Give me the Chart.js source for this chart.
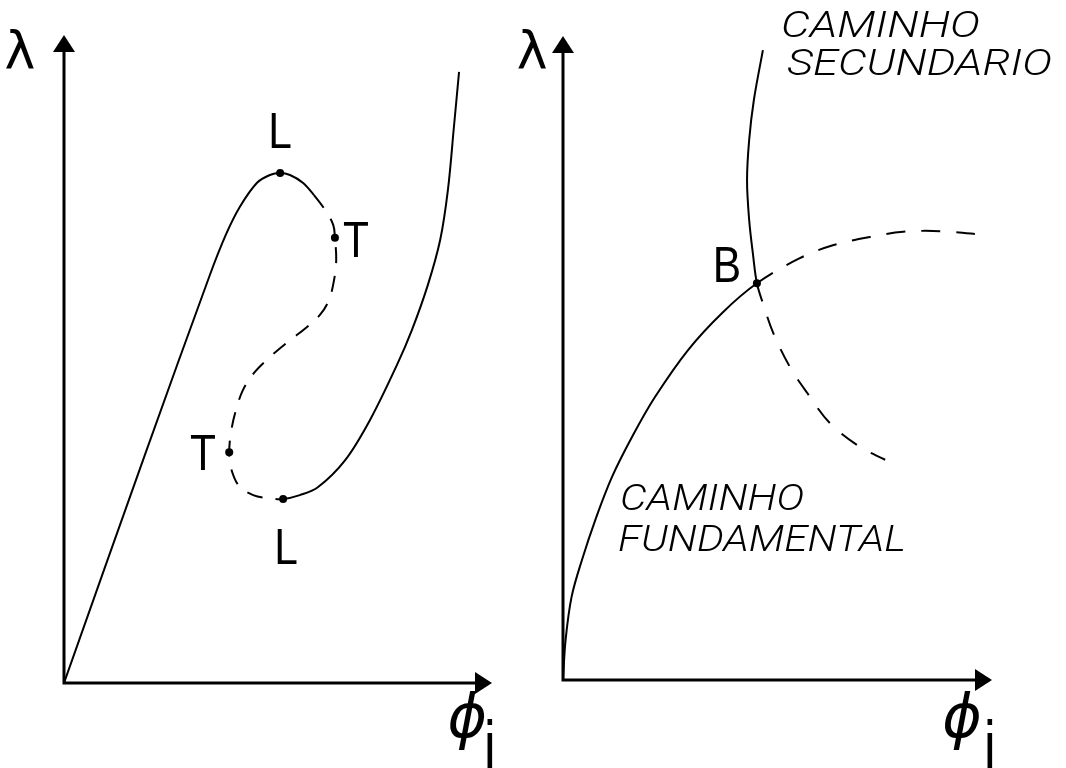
<!DOCTYPE html>
<html>
<head>
<meta charset="utf-8">
<script src="https://cdn.jsdelivr.net/npm/chart.js@4.4.1/dist/chart.umd.min.js"></script>
<style>
    html, body { margin: 0; padding: 0; background: #fff; }
    #wrap { position: relative; width: 1066px; height: 768px; overflow: hidden; }
    canvas { position: absolute; top: 0; }
    #left-chart { left: 0; }
    #right-chart { left: 510px; }
</style>
</head>
<body>
<div id="wrap">
    <canvas id="left-chart" width="510" height="768"></canvas>
    <canvas id="right-chart" width="556" height="768"></canvas>
</div>
<script>
// Left diagram: equilibrium path with limit points (L) and turning points (T).
// Points are [phi, lambda] on a 0..100 scale for each axis.
const snapPath = [
    [0, 0], [18.9, 35.2], [34.1, 63.0], [37.9, 69.3], [41.1, 73.5], [45.1, 77.2],
    [48.1, 78.4], [50.5, 78.7], [52.8, 78.4], [55.8, 77.2], [58.4, 75.3],
    [61.0, 73.0], [62.9, 70.7], [63.3, 68.7], [63.6, 65.3], [63.1, 62.2],
    [61.9, 59.1], [59.8, 56.8], [56.5, 54.8], [52.8, 52.9], [48.1, 50.3],
    [44.6, 48.0], [41.8, 45.2], [40.0, 41.7], [39.0, 38.6], [38.6, 35.6],
    [39.0, 33.2], [40.9, 30.4], [44.2, 29.0], [48.1, 28.5], [51.2, 28.4],
    [55.1, 29.0], [59.3, 30.2], [65.7, 34.4], [71.5, 40.6], [77.8, 49.1],
    [81.3, 54.5], [85.0, 61.4], [87.9, 68.4], [89.7, 76.1], [91.1, 85.8], [92.3, 94.3]
];
const snapUnstable = [10, 30];          // first/last index of the dashed stretch
const limitPoints = [[50.5, 78.7], [51.2, 28.4]];
const turningPoints = [[63.3, 68.7], [38.6, 35.6]];

// Right diagram: fundamental and secondary paths crossing at bifurcation B.
const fundamentalPath = [
    [0, 0], [0.6, 6.2], [2.0, 12.9], [4.4, 18.6], [7.5, 24.8],
    [11.4, 31.5], [16.3, 38.0], [21.4, 43.9], [29.1, 51.2], [37.1, 57.0],
    [45.2, 61.6], [55.2, 65.5], [62.9, 67.5], [71.6, 68.8], [79.3, 69.6],
    [87.9, 69.7], [98.8, 69.1]
];
const fundamentalUnstable = [10, 16];
const secondaryPath = [
    [46.6, 97.8], [44.5, 90.1], [43.4, 83.9], [42.9, 77.6], [43.4, 71.4],
    [44.3, 66.0], [45.2, 61.6], [46.6, 58.5], [49.0, 53.9], [52.9, 48.6],
    [56.9, 44.6], [62.2, 39.9], [69.2, 36.2], [75.1, 34.2]
];
const secondaryUnstable = [6, 13];
const bifurcationPoints = [[45.2, 61.6]];

const toXY = pts => pts.map(([x, y]) => ({ x, y }));

function pathDataset(points, dashRange, dash) {
    return {
        data: toXY(points),
        showLine: true,
        borderColor: "#000",
        borderWidth: 2,
        pointRadius: 0,
        tension: 0.35,
        segment: {
            borderDash: c => (c.p0DataIndex >= dashRange[0] && c.p1DataIndex <= dashRange[1]) ? dash : undefined
        }
    };
}

function markerDataset(points) {
    return {
        data: toXY(points),
        showLine: false,
        pointRadius: 4,
        pointBackgroundColor: "#000",
        pointBorderWidth: 0
    };
}

// Axes drawn as two arrows meeting at the origin
const arrowAxes = {
    id: "arrowAxes",
    beforeDatasetsDraw(chart) {
        const { ctx, scales: { x, y } } = chart;
        const x0 = x.getPixelForValue(0), x1 = x.getPixelForValue(100);
        const y0 = y.getPixelForValue(0), y1 = y.getPixelForValue(100);
        const head = 17, half = 11;
        ctx.save();
        ctx.strokeStyle = "#000";
        ctx.fillStyle = "#000";
        ctx.lineWidth = 3;
        ctx.beginPath();
        ctx.moveTo(x0, y1 + head);
        ctx.lineTo(x0, y0);
        ctx.lineTo(x1 - head, y0);
        ctx.stroke();
        ctx.beginPath();
        ctx.moveTo(x0, y1);
        ctx.lineTo(x0 - half, y1 + head);
        ctx.lineTo(x0 + half, y1 + head);
        ctx.closePath();
        ctx.fill();
        ctx.beginPath();
        ctx.moveTo(x1, y0);
        ctx.lineTo(x1 - head, y0 - half);
        ctx.lineTo(x1 - head, y0 + half);
        ctx.closePath();
        ctx.fill();
        ctx.restore();
    }
};

// Text placed at data coordinates; optional width squeezes/stretches the line
const textLayer = {
    id: "textLayer",
    afterDraw(chart, args, opts) {
        const { ctx, scales: { x, y } } = chart;
        (opts.items || []).forEach(t => {
            ctx.save();
            ctx.font = t.font;
            ctx.fillStyle = "#000";
            ctx.textAlign = t.align || "center";
            ctx.textBaseline = t.baseline || "alphabetic";
            ctx.translate(x.getPixelForValue(t.x), y.getPixelForValue(t.y));
            if (t.width) ctx.scale(t.width / ctx.measureText(t.text).width, 1);
            else if (t.sx) ctx.scale(t.sx, 1);
            ctx.fillText(t.text, 0, 0);
            ctx.restore();
        });
    }
};

const LETTER = '50px "Liberation Sans"';
const GREEK = '52px "DejaVu Sans"';
const PHI = 'italic 60px "DejaVu Sans"';
const SUB = '70px "Liberation Sans"';
const NOTE = 'italic 300 36px Roboto';

function makeChart(id, datasets, padding, items) {
    return new Chart(document.getElementById(id), {
        type: "scatter",
        data: { datasets },
        options: {
            responsive: false,
            animation: false,
            devicePixelRatio: 1,
            layout: { padding },
            scales: {
                x: { type: "linear", min: 0, max: 100, display: false },
                y: { type: "linear", min: 0, max: 100, display: false }
            },
            plugins: {
                legend: { display: false },
                tooltip: { enabled: false },
                textLayer: { items }
            }
        },
        plugins: [arrowAxes, textLayer]
    });
}

makeChart("left-chart",
    [pathDataset(snapPath, snapUnstable, [16, 13]), markerDataset(limitPoints), markerDataset(turningPoints)],
    { left: 64, right: 18, top: 35, bottom: 85 },
    [
        { text: "λ", x: -10.3, y: 94.9, font: GREEK },
        { text: "L", x: 50.5, y: 82.6, font: LETTER, sx: 0.85 },
        { text: "T", x: 68.2, y: 65.7, font: LETTER, sx: 0.85 },
        { text: "T", x: 32.5, y: 32.9, font: LETTER, sx: 0.85 },
        { text: "L", x: 51.9, y: 18.4, font: LETTER, sx: 0.85 },
        { text: "ϕ", x: 94.2, y: -6.0, font: PHI, baseline: "middle" },
        { text: "i", x: 99.5, y: -13.4, font: SUB, sx: 0.75 }
    ]);

makeChart("right-chart",
    [
        pathDataset(fundamentalPath, fundamentalUnstable, [19, 16]),
        pathDataset(secondaryPath, secondaryUnstable, [19, 16]),
        markerDataset(bifurcationPoints)
    ],
    { left: 53, right: 74, top: 36, bottom: 88 },
    [
        { text: "λ", x: -7.2, y: 95.0, font: GREEK },
        { text: "B", x: 38.2, y: 61.8, font: LETTER, sx: 0.85 },
        { text: "ϕ", x: 93.0, y: -6.5, font: PHI, baseline: "middle" },
        { text: "i", x: 99.5, y: -14.0, font: SUB, sx: 0.75 },
        { text: "CAMINHO", x: 50.8, y: 99.8, font: NOTE, align: "left", width: 199 },
        { text: "SECUNDARIO", x: 52.2, y: 93.9, font: NOTE, align: "left", width: 265 },
        { text: "CAMINHO", x: 13.3, y: 26.4, font: NOTE, align: "left", width: 184 },
        { text: "FUNDAMENTAL", x: 12.8, y: 20.0, font: NOTE, align: "left", width: 288 }
    ]);
</script>
</body>
</html>
